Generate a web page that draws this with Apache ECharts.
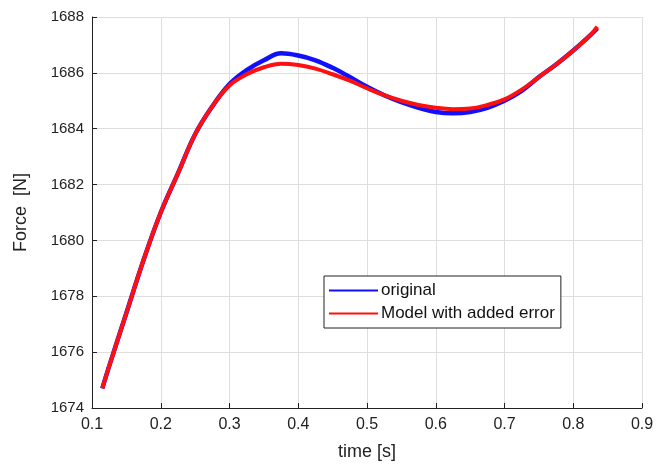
<!DOCTYPE html>
<html>
<head>
<meta charset="utf-8">
<script src="https://cdn.jsdelivr.net/npm/echarts@6/dist/echarts.min.js"></script>
<style>
  html, body { margin: 0; padding: 0; background: #fff; }
  #main { width: 657px; height: 466px; }
</style>
</head>
<body>
<div id="main"></div>
<script>
// time [s]
var times = [0.115, 0.125, 0.15, 0.175, 0.2, 0.225, 0.25, 0.275, 0.3, 0.325, 0.35, 0.375,
  0.4, 0.425, 0.45, 0.475, 0.5, 0.525, 0.55, 0.575, 0.6, 0.625, 0.65, 0.675, 0.7,
  0.725, 0.75, 0.775, 0.8, 0.825, 0.835];
// Force [N]
var original = [1674.7, 1675.5, 1677.4, 1679.3, 1681.0, 1682.4, 1683.8, 1684.8, 1685.6, 1686.1, 1686.45, 1686.7,
  1686.62, 1686.45, 1686.18, 1685.85, 1685.5, 1685.2, 1684.95, 1684.75, 1684.6, 1684.55, 1684.6, 1684.75, 1685.0,
  1685.35, 1685.85, 1686.3, 1686.8, 1687.35, 1687.6];
var modelErr = [1674.7, 1675.5, 1677.4, 1679.3, 1681.0, 1682.4, 1683.8, 1684.8, 1685.55, 1685.95, 1686.2, 1686.33,
  1686.28, 1686.15, 1685.95, 1685.72, 1685.45, 1685.2, 1685.0, 1684.85, 1684.75, 1684.7, 1684.72, 1684.85, 1685.05,
  1685.4, 1685.85, 1686.3, 1686.8, 1687.35, 1687.65];
var seriesNames = ['original', 'Model with added error'];

function pairs(xs, ys) {
  return xs.map(function (x, i) { return [x, ys[i]]; });
}

var font = 'Liberation Sans, Arial, sans-serif';
var chart = echarts.init(document.getElementById('main'), null, { renderer: 'canvas' });
chart.setOption({
  animation: false,
  backgroundColor: '#fff',
  textStyle: { fontFamily: font },
  grid: { left: 92, right: 15, top: 17, bottom: 57, containLabel: false },
  legend: {
    orient: 'vertical',
    left: 324,
    top: 276,
    padding: [5, 6, 5, 5],
    itemGap: 4,
    itemWidth: 49,
    itemHeight: 2,
    icon: 'rect',
    backgroundColor: '#fff',
    borderColor: '#222',
    borderWidth: 1,
    textStyle: { fontFamily: font, fontSize: 17, color: '#111', lineHeight: 19, padding: [0, 0, 0, -2] },
    data: seriesNames
  },
  xAxis: {
    type: 'value',
    min: 0.1, max: 0.9, interval: 0.1,
    name: 'time [s]',
    nameLocation: 'middle',
    nameGap: 35,
    nameTextStyle: { fontFamily: font, fontSize: 18, color: '#222' },
    axisLine: { lineStyle: { color: '#222', width: 1 } },
    axisTick: { inside: true, length: 5, lineStyle: { color: '#222' } },
    axisLabel: { fontFamily: font, fontSize: 16, color: '#222', margin: 9,
      formatter: function (v) { return v.toFixed(1); } },
    splitLine: { show: true, lineStyle: { color: '#dedede', width: 1 } }
  },
  yAxis: {
    type: 'value',
    min: 1674, max: 1688, interval: 2,
    name: 'Force  [N]',
    nameLocation: 'middle',
    nameGap: 62,
    nameTextStyle: { fontFamily: font, fontSize: 18, color: '#222' },
    axisLine: { show: true, lineStyle: { color: '#222', width: 1 } },
    axisTick: { show: true, inside: true, length: 5, lineStyle: { color: '#222' } },
    axisLabel: { fontFamily: font, fontSize: 15, color: '#222', margin: 8,
      formatter: function (v) { return String(v); } },
    splitLine: { show: true, lineStyle: { color: '#dedede', width: 1 } }
  },
  series: [
    {
      name: seriesNames[0],
      type: 'line',
      data: pairs(times, original),
      smooth: 0.4,
      showSymbol: false,
      symbol: 'none',
      lineStyle: { color: '#1010ff', width: 4.5 },
      itemStyle: { color: '#1010ff' },
      z: 2
    },
    {
      name: seriesNames[1],
      type: 'line',
      data: pairs(times, modelErr),
      smooth: 0.4,
      showSymbol: false,
      symbol: 'none',
      lineStyle: { color: '#ff1010', width: 4 },
      itemStyle: { color: '#ff1010' },
      z: 3
    }
  ]
});
</script>
</body>
</html>
